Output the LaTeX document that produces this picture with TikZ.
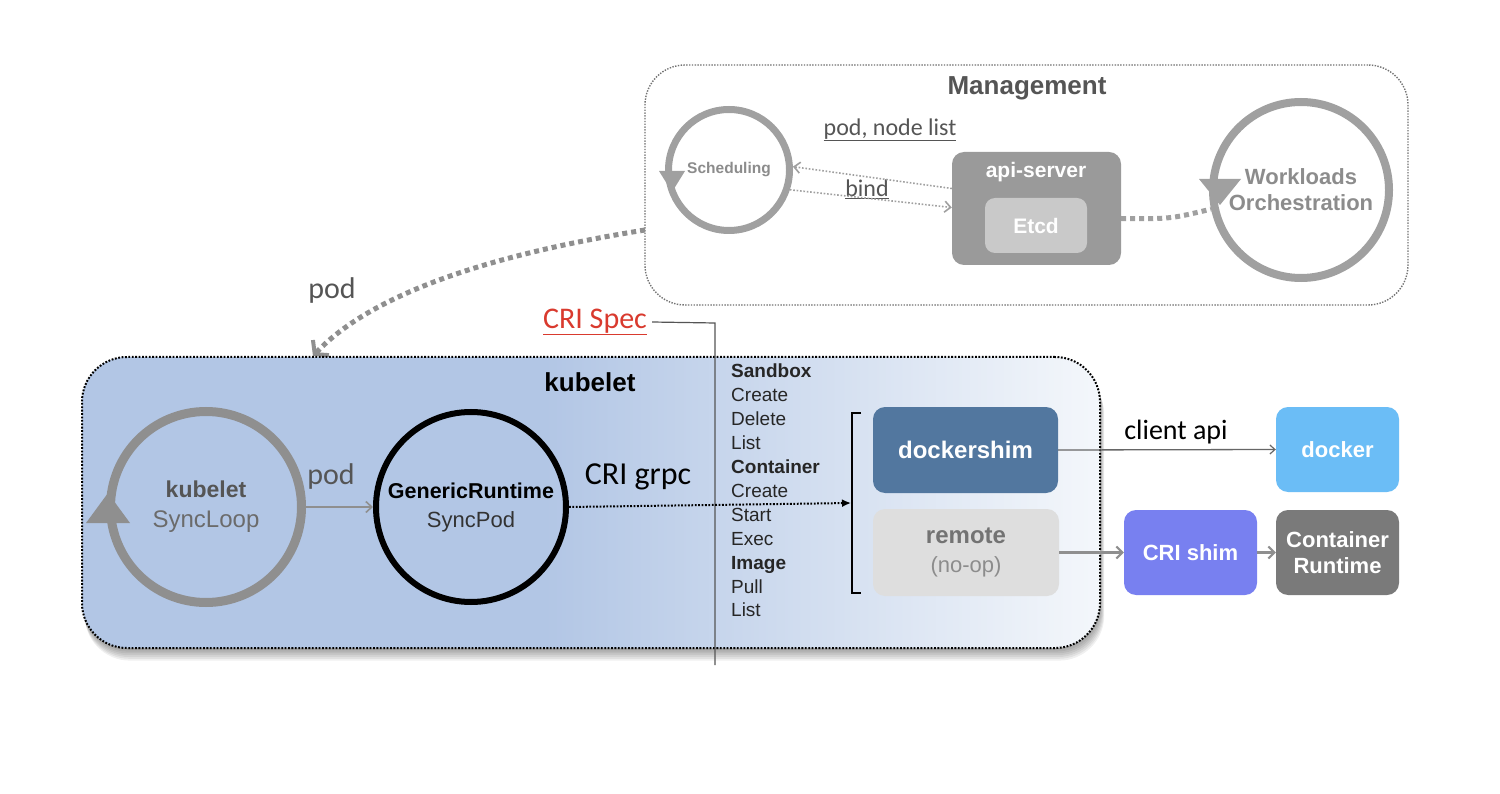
\documentclass[tikz,border=0pt]{standalone}
\usepackage{fontspec}
\setmainfont{Liberation Sans}
\newfontfamily\calfont{Carlito}
\usetikzlibrary{arrows.meta,shapes.geometric}
\definecolor{mgrey}{HTML}{A0A0A0}
\definecolor{dgrey}{HTML}{555555}
\definecolor{lgtxt}{HTML}{8C8C8C}
\definecolor{apigray}{HTML}{9A9A9A}
\definecolor{etcdgray}{HTML}{C9C9C9}
\definecolor{syncgray}{HTML}{8F8F8F}
\definecolor{kubblue}{HTML}{B2C6E5}
\definecolor{kubwhite}{HTML}{F4F7FB}
\definecolor{dockshim}{HTML}{52779F}
\definecolor{remotegray}{HTML}{DEDEDE}
\definecolor{dockblue}{HTML}{6BBDF6}
\definecolor{crishimc}{HTML}{7880F0}
\definecolor{crtgray}{HTML}{7A7A7A}
\definecolor{crired}{HTML}{D93A2E}
\tikzset{
  ring/.style={circle, inner sep=0pt, align=center},
  rbox/.style={rectangle, rounded corners=12pt, inner sep=0pt, align=center, text=white,
    font=\bfseries\fontsize{22}{26}\selectfont},
  thindot/.style={draw=mgrey, line width=1.6pt, dash pattern=on 1.6pt off 1.8pt,
    -{Straight Barb[length=6pt,width=11pt,line width=1.6pt]}},
  thickdot/.style={draw=syncgray, line width=5pt, dash pattern=on 5pt off 4pt},
  grayarrow/.style={draw=syncgray, line width=2pt, -{Straight Barb[length=6pt,width=11pt,line width=1.6pt]}},
  lbl/.style={inner sep=1pt},
}
\begin{document}
\begin{tikzpicture}[x=1pt,y=-1pt]
\useasboundingbox (0,0) rectangle (1500,794);
\fill[white] (0,0) rectangle (1500,794);

% ---------------- Management ----------------
\node[draw=black!55, line width=1.4pt, dash pattern=on 1.4pt off 1.4pt, rounded corners=40pt,
  minimum width=763pt, minimum height=240pt, inner sep=0pt] (mgmt) at (1026.5,185) {};
\node[font=\bfseries\fontsize{26}{30}\selectfont, text=dgrey] (mtitle) at (1027,88) {Management};

\node[ring, draw=mgrey, line width=7pt, minimum size=121pt, text=lgtxt,
  font=\bfseries\fontsize{15.5}{18}\selectfont] (sched) at (729,170) {Scheduling};
\fill[mgrey] (659,171) -- (685,171) -- (672,192) -- cycle;

\node[rbox, fill=apigray, minimum width=169pt, minimum height=113pt] (api) at (1036.5,208.5) {};
\node[font=\bfseries\fontsize{21}{25}\selectfont, text=white] (apitxt) at (1036,172) {api-server};
\node[rbox, rounded corners=10pt, fill=etcdgray, minimum width=102pt, minimum height=55pt,
  font=\bfseries\fontsize{21}{25}\selectfont] (etcd) at (1036,225.5) {Etcd};

\node[ring, draw=mgrey, line width=8pt, minimum size=176pt, text=lgtxt,
  font=\bfseries\fontsize{22}{26}\selectfont] (work) at (1301,190) {Workloads\\Orchestration};
\fill[mgrey] (1199,179) -- (1241,179) -- (1220,205) -- cycle;

\node[lbl, text=dgrey, font=\calfont\fontsize{24}{28}\selectfont] (pnl) at (890,130) {\underline{pod, node list}};
\node[lbl, text=dgrey, font=\calfont\fontsize{24}{28}\selectfont] (bindl) at (867,189) {\underline{bind}};

\draw[thindot] ([yshift=20pt]api.west) -- (sched.3);
\draw[thindot] (sched.-18) -- ([yshift=1pt]api.west);
\draw[thickdot, draw=mgrey] ([yshift=-10pt]api.east) .. controls (1170,219) .. (work.192);

% ---------------- pod arrow ----------------
\coordinate (podsrc) at (645,230);
\coordinate (podtgt) at (313,356);
\draw[thickdot, -{Straight Barb[length=9pt,width=22pt,line width=4pt]}]
  (podsrc) .. controls (520,250) and (380,285) .. (podtgt);
\node[lbl, text=dgrey, font=\calfont\fontsize{30}{34}\selectfont] (podtop) at (332,291) {pod};

% ---------------- kubelet box ----------------
\foreach \i in {1,...,7}
  \fill[black, opacity=0.06, rounded corners=45pt] (82+\i*0.4,357+\i*1.8) rectangle (1100+\i*0.6,648+\i*1.8);
\begin{scope}
  \clip[rounded corners=45pt] (82,357) rectangle (1100,648);
  \fill[kubblue] (82,357) rectangle (545,648);
  \shade[left color=kubblue, right color=kubwhite] (544,357) rectangle (1100,648);
\end{scope}
\node[draw=black, line width=2pt, dash pattern=on 1.8pt off 1.6pt, rounded corners=45pt,
  minimum width=1018pt, minimum height=291pt, inner sep=0pt] (kub) at (591,502.5) {};
\node[font=\bfseries\fontsize{26}{30}\selectfont] (kubtitle) at (590,382) {kubelet};

\node[ring, draw=syncgray, line width=9pt, minimum size=191pt, font=\fontsize{24}{30}\selectfont] (sync) at (206,507)
  {{\bfseries\fontsize{23}{30}\selectfont\color{dgrey}kubelet}\\{\fontsize{24}{30}\selectfont\color{black!58}SyncLoop}};
\fill[syncgray] (86,523) -- (130,523) -- (108,493) -- cycle;

\node[ring, draw=black, line width=6pt, minimum size=190pt, font=\fontsize{22}{29}\selectfont] (gen) at (471,507)
  {{\bfseries\fontsize{21.5}{29}\selectfont GenericRuntime}\\{\fontsize{22}{29}\selectfont\color{black!80}SyncPod}};

\draw[grayarrow] (sync.east) -- (gen.west);
\node[lbl, text=dgrey, font=\calfont\fontsize{30}{34}\selectfont] (podmid) at (331,477) {pod};

\node[lbl, font=\calfont\fontsize{32}{36}\selectfont] (grpc) at (638,477) {CRI grpc};

% CRI spec
\node[lbl, text=crired, font=\calfont\fontsize{30}{34}\selectfont] (crispec) at (595,322) {\underline{CRI Spec}};
\coordinate (speccorner) at (715,323);
\coordinate (specend) at (715,665);
\draw[dgrey, line width=1.2pt] (crispec.east) ++(4pt,0) -- (speccorner) -- (specend);

% operations list
\node[anchor=north west, align=left, inner sep=0pt, font=\fontsize{19}{23.9}\selectfont, text=black!85] (ops) at (731,364)
  {\textbf{Sandbox}\\Create\\Delete\\List\\\textbf{Container}\\Create\\Start\\Exec\\\textbf{Image}\\Pull\\List};

% bracket
\coordinate (brk) at (851,503);
\draw[black, line width=1.3pt] (861,413) -- (852,413) -- (852,593) -- (861,593);
\draw[black, line width=2pt, dash pattern=on 1.8pt off 1.6pt, -{Latex[length=9pt,width=8pt]}] (gen.east) -- (brk);

% runtimes
\node[rbox, fill=dockshim, minimum width=185pt, minimum height=86pt, font=\bfseries\fontsize{24}{28}\selectfont] (dshim) at (965.5,450) {dockershim};
\node[rbox, fill=remotegray, minimum width=186pt, minimum height=87pt, text=black!55, font=\fontsize{24}{29}\selectfont] (remote) at (966,552.5)
  {{\bfseries\fontsize{24}{29}\selectfont remote}\\{\mdseries\fontsize{22}{29}\selectfont\color{black!45}(no-op)}};
\node[rbox, fill=dockblue, minimum width=123pt, minimum height=85pt] (docker) at (1337.5,449.5) {docker};
\node[rbox, fill=crishimc, minimum width=133pt, minimum height=85pt] (cshim) at (1190.5,552.5) {CRI shim};
\node[rbox, fill=crtgray, minimum width=123pt, minimum height=85pt] (crt) at (1337.5,552.5) {Container\\Runtime};

\draw[draw=black!60, line width=1.3pt, -{Straight Barb[length=5pt,width=9pt,line width=1.2pt]}] (dshim.east) -- (docker.west);
\node[lbl, font=\calfont\fontsize{28}{32}\selectfont] (capi) at (1176,432) {client api};
\draw[draw=syncgray, line width=3pt, -{Straight Barb[length=6pt,width=12pt,line width=2pt]}] (remote.east) -- (cshim.west);
\draw[draw=syncgray, line width=3pt, -{Straight Barb[length=6pt,width=12pt,line width=2pt]}] (cshim.east) -- (crt.west);
\end{tikzpicture}
\end{document}
